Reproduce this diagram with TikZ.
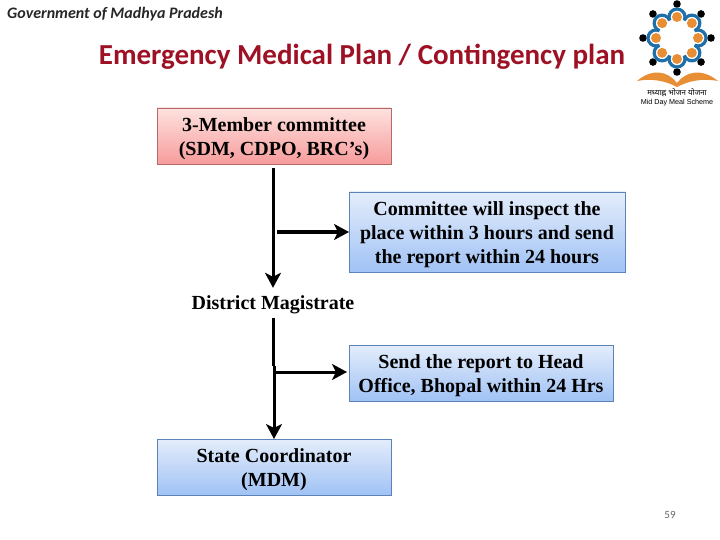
\documentclass[tikz,border=0pt]{standalone}
\usepackage{fontspec}
\setmainfont{Liberation Serif}
\newfontfamily\slidefont{Carlito}
\newfontfamily\hindifont[Script=Devanagari]{Noto Sans}
\newfontfamily\logofont{Liberation Sans}
\usetikzlibrary{arrows.meta}
\definecolor{titlered}{HTML}{9E1124}
\definecolor{logoblue}{HTML}{1F6FA8}
\definecolor{logoorange}{HTML}{E88F35}
\definecolor{redtop}{HTML}{FDE2DF}
\definecolor{redbottom}{HTML}{F79C9C}
\definecolor{redline}{HTML}{B56A6A}
\definecolor{bluetop}{HTML}{E4EDFB}
\definecolor{bluebottom}{HTML}{A0C2F5}
\definecolor{blueline}{HTML}{5B83B5}
\newcommand{\boxstrut}{\rule{0pt}{20pt}}
\begin{document}
\begin{tikzpicture}[
  x=1pt, y=-1pt,
  box/.style={draw, align=center, inner sep=0pt, outer sep=0pt, line width=0.8pt, font=\fontsize{20}{24}\selectfont\bfseries},
  redbox/.style={box, draw=redline, top color=redtop, bottom color=redbottom},
  bluebox/.style={box, draw=blueline, top color=bluetop, bottom color=bluebottom},
  arrow/.style={-{Stealth[length=15pt,width=16pt,inset=4pt]}, line width=3pt}
]
\useasboundingbox (0,0) rectangle (720,540);
\node[anchor=west, font=\slidefont\fontsize{16}{18}\selectfont\bfseries\itshape, text=black!85, inner sep=0pt] (org) at (7,14) {Government of Madhya Pradesh};
\node[font=\slidefont\fontsize{29}{32}\selectfont\bfseries, text=titlered, inner sep=0pt] (title) at (362,57) {Emergency Medical Plan / Contingency plan};
\node[redbox, minimum width=234pt, minimum height=56pt] (member) at (274,136) {\boxstrut 3-Member committee\\(SDM, CDPO, BRC’s)};
\node[bluebox, minimum width=276pt, minimum height=80pt] (inspect) at (487,232) {\boxstrut Committee will inspect the\\place within 3 hours and send\\the report within 24 hours};
\node[font=\fontsize{20}{24}\selectfont\bfseries, inner sep=0pt, minimum height=30pt, execute at begin node={\rule{0pt}{18pt}}] (magistrate) at (273,303) {District Magistrate};
\node[bluebox, minimum width=264pt, minimum height=56pt] (head) at (481,373) {\boxstrut Send the report to Head\\Office, Bhopal within 24 Hrs};
\node[bluebox, minimum width=234pt, minimum height=56pt] (coordinator) at (274,467) {\boxstrut State Coordinator\\(MDM)};
\node[font=\slidefont\fontsize{11}{13}\selectfont, text=black!60] (page) at (670,515) {59};
\coordinate (branchA) at (277,232);
\coordinate (branchB) at (274,372);
\coordinate (jointB) at (274,366);
\draw[arrow, shorten <=4pt] (member.south -| magistrate) -- (magistrate.north);
\draw[arrow] (branchA) -- (inspect.west);
\draw[line width=3pt] (magistrate.south) -- (magistrate.south |- jointB);
\draw[arrow] (jointB) -- (jointB |- coordinator.north);
\draw[arrow, shorten >=2pt] (branchB) -- (head.west |- branchB);
\foreach \a in {0,45,...,315} {
  \fill[black] (677,38) ++(\a:34) circle (3.8);
  \draw[logoblue, line width=3.2pt] (677,38) ++(\a:21) ++(\a-115:8) arc[start angle=\a-115, end angle=\a+115, radius=8];
  \fill[logoorange] (677,38) ++(\a:21) circle (5);
}
\fill[logoorange] (637,81) .. controls (652,68) and (668,71) .. (677,83) .. controls (686,71) and (702,68) .. (718,81) .. controls (702,78) and (688,81) .. (677,87) .. controls (666,81) and (652,78) .. (637,81) -- cycle;
\node[font=\hindifont\fontsize{7.8}{8}\selectfont, inner sep=0pt] (logohindi) at (677,93) {मध्याह्न भोजन योजना};
\node[font=\logofont\fontsize{7.2}{8}\selectfont, inner sep=0pt] (logoname) at (677,103) {Mid Day Meal Scheme};
\end{tikzpicture}
\end{document}
